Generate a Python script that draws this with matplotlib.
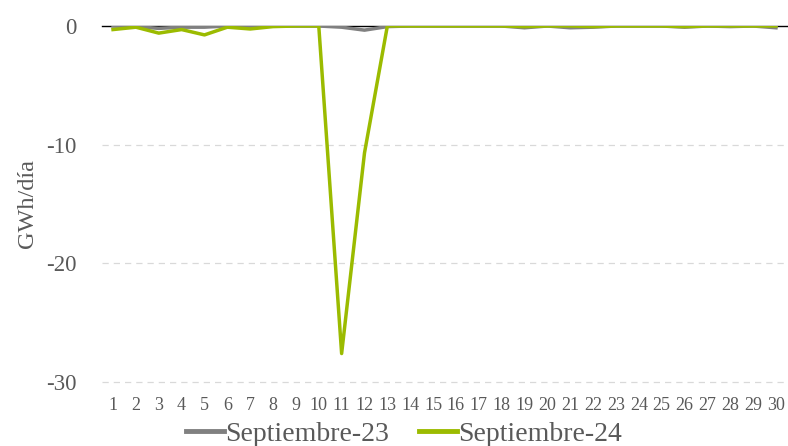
import matplotlib
matplotlib.use("Agg")
import matplotlib.pyplot as plt

days = list(range(1, 31))
day_labels = [str(d) for d in days]
sep23 = [0.0, -0.05, -0.2, -0.1, -0.1, 0.0, -0.05, 0.0, 0.0, 0.0,
         -0.1, -0.35, -0.05, 0.0, 0.0, 0.0, 0.0, 0.0, -0.15, 0.0,
         -0.15, -0.1, 0.0, 0.0, 0.0, -0.1, 0.0, -0.05, 0.0, -0.15]
sep24 = [-0.3, -0.1, -0.6, -0.3, -0.75, -0.1, -0.25, -0.05, 0.0, 0.0,
         -27.6, -10.7, 0.0, 0.0, 0.0, 0.0, 0.0, 0.0, -0.05, 0.0,
         0.0, -0.05, 0.0, 0.0, 0.0, -0.05, 0.0, 0.0, 0.0, 0.0]
series_names = ["Septiembre-23", "Septiembre-24"]
yticks = [0, -10, -20, -30]
ytick_labels = ["0", "-10", "-20", "-30"]

plt.rcParams['font.family'] = ['Liberation Serif', 'DejaVu Serif']

fig = plt.figure(figsize=(7.88, 4.46), dpi=100)
ax = fig.add_axes([101.6/788, 1-382/446, (787.4-101.6)/788, (382-26)/446])

txt = '#595959'
ax.plot(days, sep23, color='#808080', lw=2.5, label=series_names[0], zorder=3, solid_joinstyle='round')
ax.plot(days, sep24, color='#9BBB00', lw=2.5, label=series_names[1], zorder=4, solid_joinstyle='round')

ax.set_xlim(0.5, 30.5)
ax.set_ylim(-30, 0)
ax.set_yticks(yticks)
ax.set_yticklabels(ytick_labels)
ax.set_xticks(days)
ax.set_xticklabels(day_labels)

for y in [-10, -20, -30]:
    ax.axhline(y, color='#D9D9D9', lw=0.9, ls=(0, (5, 4)), zorder=1, clip_on=False)
ax.axhline(0, color='#000000', lw=1.0, zorder=2, clip_on=False)

for s in ax.spines.values():
    s.set_visible(False)
ax.tick_params(axis='x', length=0, pad=11, labelsize=13, labelcolor=txt)
ax.tick_params(axis='y', length=0, pad=18, labelsize=16.5, labelcolor=txt)
ax.set_ylabel("GWh/día", fontsize=17.5, color=txt)
ax.yaxis.set_label_coords((27 - 101.6) / 685.8, 0.5)
ax.yaxis.label.set_va('center')

leg = fig.legend(loc='center', bbox_to_anchor=(404/788, 1-434/446), ncol=2, frameon=False,
                 fontsize=20, handlelength=1.35, handletextpad=0.05, columnspacing=1.1,
                 labelcolor=txt, borderpad=0, borderaxespad=0)
for h in leg.get_lines():
    h.set_linewidth(3.5)

fig.savefig("out.png", dpi=100)
